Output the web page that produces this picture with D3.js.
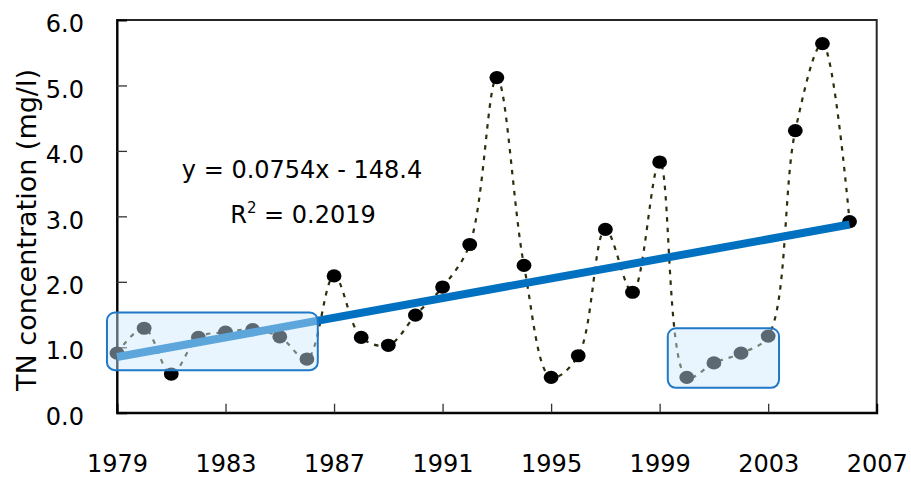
<!DOCTYPE html>
<html><head><meta charset="utf-8">
<script src="https://cdn.jsdelivr.net/npm/d3@7"></script>
<style>
body{margin:0;background:#fff}
svg{display:block}
text{font-family:"DejaVu Sans",sans-serif;fill:#000}
</style>
</head><body>
<svg id="c" width="911" height="477"></svg>
<script>
const years = [1979,1980,1981,1982,1983,1984,1985,1986,1987,1988,1989,1990,1991,1992,1993,1994,1995,1996,1997,1998,1999,2000,2001,2002,2003,2004,2005,2006];
const tnValues = [0.91,1.29,0.59,1.15,1.23,1.27,1.16,0.82,2.09,1.15,1.03,1.49,1.92,2.57,5.12,2.25,0.54,0.87,2.80,1.84,3.83,0.54,0.76,0.91,1.17,4.31,5.64,2.92];
const xTicks = [1979,1983,1987,1991,1995,1999,2003,2007];
const yTicks = [0,1,2,3,4,5,6];
const highlightYears = [[1978.63,1986.40],[1999.30,2003.40]];
const highlightValues = [[0.65,1.53],[0.38,1.29]];
const equationLabel = "y = 0.0754x - 148.4";
const r2Label = "0.2019";
const yTitle = "TN concentration (mg/l)";

const svg = d3.select("#c");
const L = 117, R = 876.7, T = 20, B = 412.7;
const x = d3.scaleLinear().domain([1979,2007]).range([L,R]);
const y = d3.scaleLinear().domain([0,6]).range([B,T]);
const data = years.map((yr,i)=>({yr, v:tnValues[i]}));

// frame
svg.append("rect").attr("x",L).attr("y",T).attr("width",R-L).attr("height",B-T)
  .attr("fill","none").attr("stroke","#262626").attr("stroke-width",2);

// axes
const yAxis = d3.axisLeft(y).tickValues(yTicks).tickFormat(d3.format(".1f")).tickSize(-10).tickPadding(33);
const gy = svg.append("g").attr("transform",`translate(${L},0)`).call(yAxis);
gy.select(".domain").attr("stroke","#000").attr("stroke-width",2);
gy.selectAll(".tick line").attr("stroke","#333").attr("stroke-width",1.3)
  .attr("display",d=>(d===0||d===6)?"none":null);
gy.selectAll(".tick text").attr("y",4).style("font-size","24px").style("font-family","DejaVu Sans").attr("fill","#000");

const xAxis = d3.axisBottom(x).tickValues(xTicks).tickFormat(d3.format("d")).tickSize(-9).tickPadding(42.6);
const gx = svg.append("g").attr("transform",`translate(0,${B})`).call(xAxis);
gx.select(".domain").attr("stroke","#000").attr("stroke-width",2);
gx.selectAll(".tick line").attr("stroke","#333").attr("stroke-width",1.3)
  .attr("display",d=>(d===1979||d===2007)?"none":null);
gx.selectAll(".tick text").style("font-size","24px").style("font-family","DejaVu Sans").attr("fill","#000");

// dotted smoothed line
const line = d3.line().x(d=>x(d.yr)).y(d=>y(d.v)).curve(d3.curveCatmullRom.alpha(0.5));
svg.append("path").datum(data).attr("d",line).attr("fill","none")
  .attr("stroke","#2e2e0c").attr("stroke-width",2.2).attr("stroke-dasharray","4.5,6");

// markers
svg.append("g").selectAll("ellipse").data(data).join("ellipse")
  .attr("cx",d=>x(d.yr)).attr("cy",d=>y(d.v)).attr("rx",7.4).attr("ry",6.6).attr("fill","#000");

// linear trend (least squares)
const mx = d3.mean(years), my = d3.mean(tnValues);
const slope = d3.sum(data,d=>(d.yr-mx)*(d.v-my))/d3.sum(data,d=>(d.yr-mx)**2);
const icpt = my - slope*mx;
const trendYears = [years[0], years[years.length-1]];
svg.append("line")
  .attr("x1",x(trendYears[0])).attr("y1",y(slope*trendYears[0]+icpt))
  .attr("x2",x(trendYears[1])).attr("y2",y(slope*trendYears[1]+icpt))
  .attr("stroke","#0070c0").attr("stroke-width",8);

// highlight boxes
highlightYears.forEach((hy,i)=>{
  const hv = highlightValues[i];
  svg.append("rect")
    .attr("x",x(hy[0])).attr("y",y(hv[1]))
    .attr("width",x(hy[1])-x(hy[0])).attr("height",y(hv[0])-y(hv[1]))
    .attr("rx",8).attr("ry",8)
    .attr("fill","rgb(205,232,252)").attr("fill-opacity",0.45)
    .attr("stroke","#1f78c8").attr("stroke-width",2);
});

// equation text
svg.append("text").attr("x",302).attr("y",178).attr("text-anchor","middle")
  .style("font-size","24px").text(equationLabel);
const r2 = svg.append("text").attr("x",303).attr("y",222.7).attr("text-anchor","middle").style("font-size","24px");
r2.append("tspan").text("R");
r2.append("tspan").attr("dy",-10).style("font-size","15px").text("2");
r2.append("tspan").attr("dy",10).text(" = " + r2Label);

// y title
svg.append("text").attr("transform","translate(36,230) rotate(-90)")
  .attr("text-anchor","middle").style("font-size","27px").text(yTitle);
</script>
</body></html>
